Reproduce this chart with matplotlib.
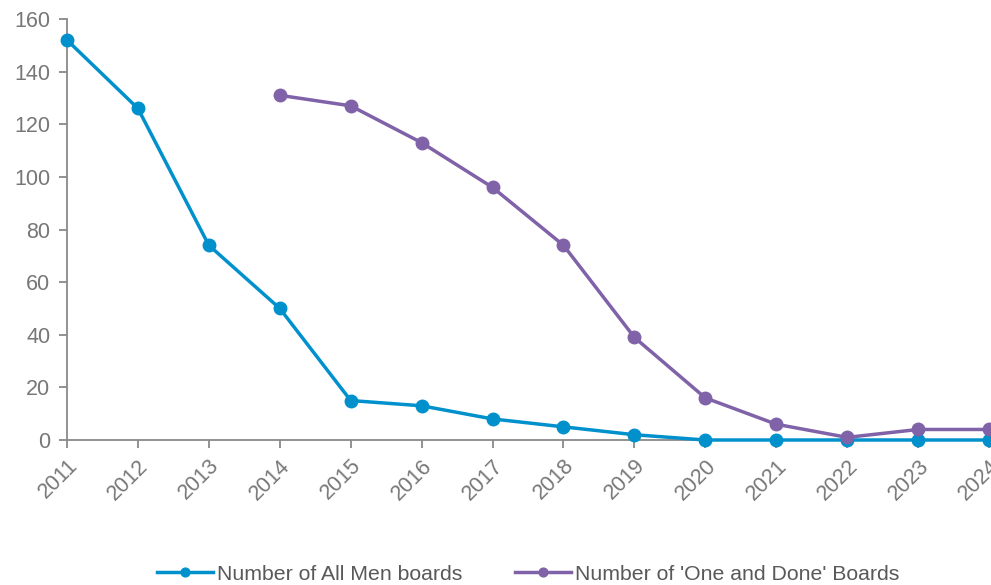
import matplotlib
matplotlib.use('Agg')
import matplotlib.pyplot as plt

# --- 数据 ---
years = [2011, 2012, 2013, 2014, 2015, 2016, 2017, 2018, 2019, 2020, 2021, 2022, 2023, 2024]
all_men = [152, 126, 74, 50, 15, 13, 8, 5, 2, 0, 0, 0, 0, 0]
one_done_years = [2014, 2015, 2016, 2017, 2018, 2019, 2020, 2021, 2022, 2023, 2024]
one_done = [131, 127, 113, 96, 74, 39, 16, 6, 1, 4, 4]

BLUE = '#0091CD'
PURPLE = '#8062A8'
AXIS = '#898989'
TEXT = '#777777'

plt.rcParams['font.family'] = ['Liberation Sans', 'DejaVu Sans']

fig = plt.figure(figsize=(9.91, 5.85), dpi=100)
ax = fig.add_axes([67 / 991, 1 - 440 / 585, (989 - 67) / 991, (440 - 19) / 585])

ax.plot(years, all_men, color=BLUE, lw=2.5, marker='o', ms=9, clip_on=False,
        label='Number of All Men boards', zorder=3)
ax.plot(one_done_years, one_done, color=PURPLE, lw=2.5, marker='o', ms=9, clip_on=False,
        label="Number of 'One and Done' Boards", zorder=4)

ax.set_xlim(2011, 2024)
ax.set_ylim(0, 160)
ax.set_yticks(range(0, 161, 20))
ax.set_xticks(years)
ax.set_xticklabels([str(y) for y in years], rotation=45, ha='right', rotation_mode='anchor')

for s in ['top', 'right']:
    ax.spines[s].set_visible(False)
for s in ['left', 'bottom']:
    ax.spines[s].set_color(AXIS)
    ax.spines[s].set_linewidth(1.3)
ax.tick_params(axis='both', colors=AXIS, labelcolor=TEXT, labelsize=15.5, length=6, width=1.3, direction='out')
ax.tick_params(axis='y', pad=6)
ax.tick_params(axis='x', pad=5)

leg = fig.legend(loc='center', bbox_to_anchor=(0.533, 1 - 574 / 585), ncol=2, frameon=False,
                 fontsize=15.3, handlelength=2.6, handletextpad=0.2, columnspacing=2.5,
                 markerscale=0.7)
for t in leg.get_texts():
    t.set_color('#595959')

fig.savefig('out.png', dpi=100)
